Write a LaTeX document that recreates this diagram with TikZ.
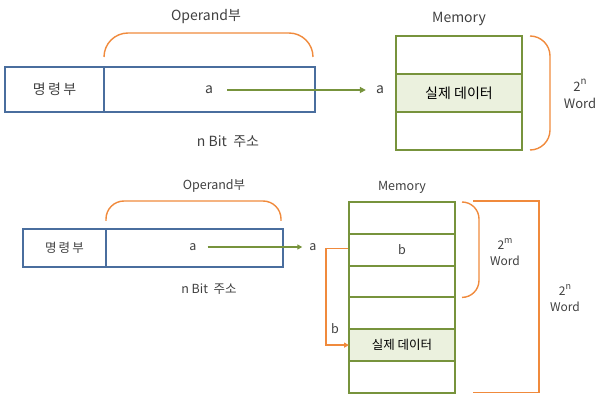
\documentclass[tikz,border=0pt]{standalone}
\usepackage{fontspec}
\setmainfont{Noto Sans CJK KR}
\usepackage{tikz}
\usetikzlibrary{arrows.meta,calc,positioning}

\definecolor{instrblue}{HTML}{4A6E9E}
\definecolor{memgreen}{HTML}{77933C}
\definecolor{datafill}{HTML}{EBF1DE}
\definecolor{braceorange}{HTML}{F08A3C}

% power of two with a raised exponent
\newcommand{\pw}[1]{2\raisebox{0.5em}{\scalebox{0.75}{#1}}}

\begin{document}
\begin{tikzpicture}[x=1pt,y=-1pt,
    instr/.style={rectangle,draw=instrblue,line width=1.4pt,outer sep=0pt,
      anchor=north west,inner sep=0pt},
    cell/.style={rectangle,draw=memgreen,line width=2.2pt,outer sep=0pt,inner sep=0pt},
    datacell/.style={cell,fill=datafill},
    connector/.style={-{Triangle[length=6pt,width=6pt]},draw=memgreen,line width=1.6pt},
    indirect/.style={-{Triangle[length=5pt,width=5pt]},draw=braceorange,line width=1.5pt},
    brace/.style={draw=braceorange,line width=1.4pt},
    lbl/.style={inner sep=0pt,text=black!75},
    big/.style={font=\fontsize{14}{16}\selectfont},
    small/.style={font=\fontsize{12.5}{14}\selectfont}]
  \useasboundingbox (0,0) rectangle (599,395);

  % ---- direct addressing (upper part) ----
  \node (opcode) [instr,minimum width=99pt,minimum height=45pt] at (5,67) {};
  \node (operand) [instr,minimum width=211pt,minimum height=45pt] at (opcode.north east) {};
  \node [lbl,big] at (opcode.center) {명\,령\,부};
  \node (addr) [lbl,big] at (209,90) {a};
  \node (target) [lbl,big] at (380,90) {a};
  \node (bits) [lbl,big] at (228,142) {n Bit\ \ 주소};
  \node (opname) [lbl,big] at (206,17) {Operand부};

  % memory with three words, the middle one holds the data
  \node (mem0) [cell,minimum width=126pt,minimum height=38pt,anchor=north west] at (396,36) {};
  \node (mem1) [datacell,minimum width=126pt,minimum height=38pt,below=0pt of mem0,big]
    {실제 데이터};
  \node (mem2) [cell,minimum width=126pt,minimum height=38pt,below=0pt of mem1] {};
  \node (memname) [lbl,above=10pt of mem0,big] {Memory};
  \node (size) [lbl,align=center,font=\fontsize{13}{17}\selectfont] at (580,94) {\pw{n}\\Word};

  \draw[connector] (addr.east) ++(14,0) -- ($(target.west)+(-10,0)$);
  \draw[brace,rounded corners=24pt] ($(operand.north west)+(0,-10)$) -- ++(0,-24)
    -| ($(operand.north east)+(-2,-10)$);
  \draw[brace,rounded corners=20pt] ($(mem0.north east)+(8,0)$) -- ++(20,0)
    |- ($(mem2.south east)+(8,0)$);

  % ---- indirect addressing (lower part) ----
  \node (opcodeB) [instr,minimum width=83pt,minimum height=38pt] at (23,229) {};
  \node (operandB) [instr,minimum width=177pt,minimum height=38pt] at (opcodeB.north east) {};
  \node [lbl,small] at (opcodeB.center) {명\,령\,부};
  \node (addrB) [lbl,small] at (193,247) {a};
  \node (targetB) [lbl,small] at (313,247) {a};
  \node (bitsB) [lbl,small] at (209,289) {n Bit\ \ 주소};
  \node (opnameB) [lbl,small] at (214,186) {Operand부};

  % memory with six words: word 1 keeps the pointer b, word 4 the data
  \node (memB0) [cell,line width=2pt,minimum width=106pt,minimum height=31.8pt,
    anchor=north west] at (349,202) {};
  \foreach \i [remember=\i as \last (initially 0)] in {1,...,5} {
    \node (memB\i) [cell,line width=2pt,minimum width=106pt,minimum height=31.8pt,
      below=0pt of memB\last] {};
  }
  \node [lbl,small] at (memB1.center) {b};
  \node [datacell,line width=2pt,minimum width=106pt,minimum height=31.8pt,small]
    at (memB4.center) {실제 데이터};
  \node (memnameB) [lbl,above=8pt of memB0,small] {Memory};
  \node (sizeM) [lbl,align=center,font=\fontsize{12}{16}\selectfont] at (505,252) {\pw{m}\\Word};
  \node (sizeN) [lbl,align=center,font=\fontsize{12}{16}\selectfont] at (565,298) {\pw{n}\\Word};

  \draw[connector,line width=1.4pt,-{Triangle[length=5pt,width=5pt]}] (addrB.east) ++(11,0)
    -- ($(targetB.west)+(-7,0)$);
  \coordinate (pointer) at ($(memB1.west)+(-1,-1)$);
  \coordinate (turn) at ($(pointer)+(-22,0)$);
  \draw[indirect] (pointer) -| (turn |- memB4.west) -- (memB4.west);
  \node (ptr) [lbl,small] at ($(turn |- memB4.north)+(9,-1)$) {b};

  \draw[brace,rounded corners=18pt] ($(operandB.north west)+(0,-8)$) -- ++(0,-20)
    -| ($(operandB.north east)+(-2,-8)$);
  \draw[brace,rounded corners=17pt] ($(memB0.north east)+(7,0)$) -- ++(17,0)
    |- ($(memB2.south east)+(7,0)$);
  \draw[brace,line width=1.3pt] ($(memB0.north east)+(18,-1)$) -- ++(66,0)
    |- ($(memB5.south east)+(18,0)$);
\end{tikzpicture}
\end{document}
